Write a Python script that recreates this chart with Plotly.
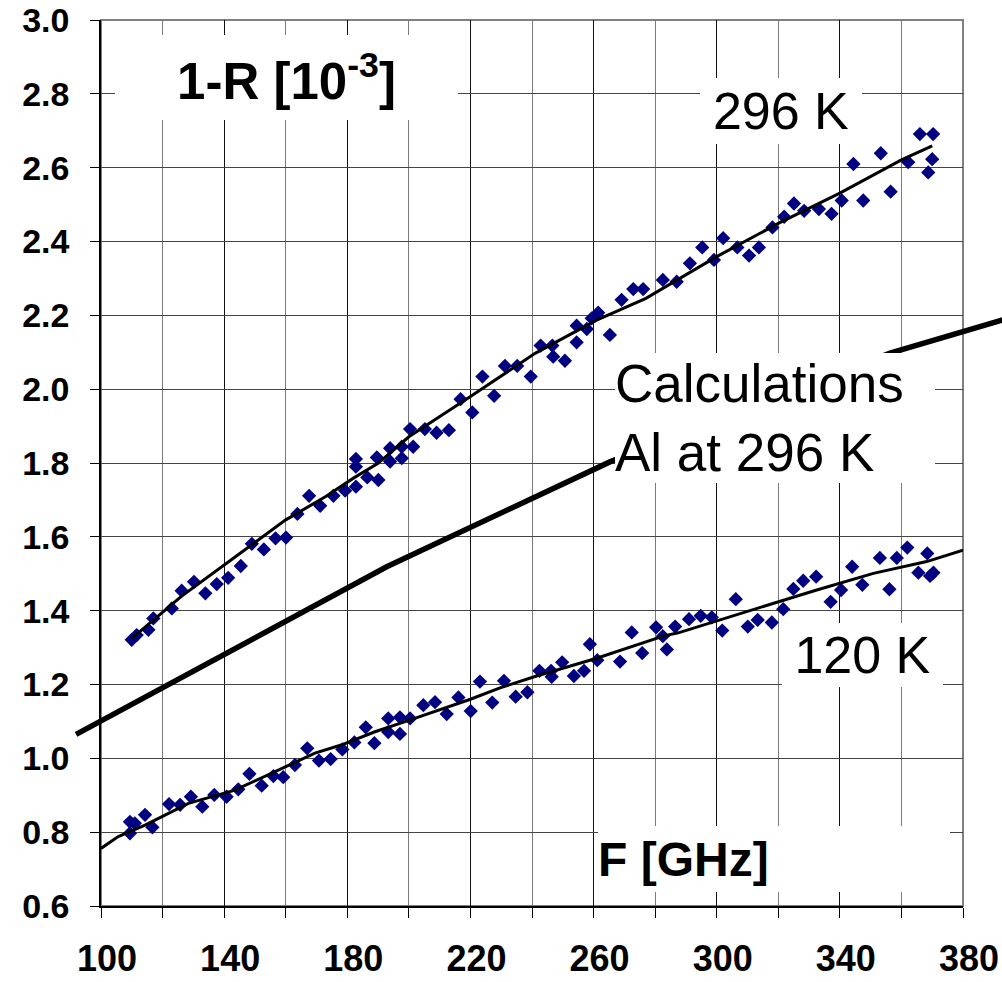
import plotly.graph_objects as go

# ---------------- data ----------------
F_296 = [109.97, 111.6, 115.4, 117.0, 123.0, 126.2, 130.2, 133.9, 137.6, 141.3,
         145.4, 149.0, 152.9, 156.7, 160.1, 163.8, 167.6, 171.2, 175.5, 179.3,
         182.8, 182.8, 182.8, 186.5, 189.6, 190.1, 193.9, 193.9, 197.7, 197.7,
         200.4, 201.4, 205.2, 209.0, 213.0, 216.8, 220.6, 223.9, 227.7, 231.2,
         235.2, 239.6, 242.8, 246.6, 246.9, 250.7, 254.5, 254.5, 257.8, 259.4,
         261.5, 265.3, 269.1, 272.9, 276.1, 282.5, 287.0, 291.3, 295.3, 299.1,
         302.1, 306.7, 310.5, 313.7, 318.1, 321.9, 325.1, 328.4, 333.2, 337.3,
         340.6, 344.4, 347.6, 353.3, 356.5, 362.2, 366.0, 370.3, 368.7, 370.0]
R_296 = [1.321, 1.334, 1.348, 1.379, 1.406, 1.454, 1.478, 1.447, 1.472, 1.489,
         1.521, 1.581, 1.566, 1.596, 1.598, 1.662, 1.711, 1.684, 1.711, 1.725,
         1.736, 1.811, 1.790, 1.761, 1.815, 1.754, 1.840, 1.804, 1.813, 1.844,
         1.892, 1.844, 1.892, 1.882, 1.889, 1.973, 1.937, 2.034, 1.982, 2.063,
         2.063, 2.034, 2.118, 2.118, 2.088, 2.077, 2.172, 2.127, 2.163, 2.192,
         2.207, 2.147, 2.242, 2.271, 2.271, 2.296, 2.291, 2.341, 2.384, 2.350,
         2.409, 2.384, 2.362, 2.384, 2.438, 2.467, 2.503, 2.483, 2.488, 2.475,
         2.511, 2.610, 2.511, 2.639, 2.535, 2.615, 2.691, 2.691, 2.587, 2.623]

F_296_fit = [110, 126, 143, 160, 173, 182, 190, 200, 220, 241, 261, 277,
             300, 320, 340, 360, 370]
R_296_fit = [1.325, 1.438, 1.542, 1.646, 1.709, 1.759, 1.799, 1.871, 1.980,
             2.097, 2.187, 2.246, 2.359, 2.449, 2.531, 2.621, 2.659]

F_120 = [109.4, 109.4, 111.0, 114.3, 116.7, 122.1, 125.7, 129.2, 132.9, 136.8,
         140.8, 144.6, 148.2, 152.2, 156.0, 159.2, 163.0, 167.0, 170.8, 174.6,
         178.4, 182.3, 186.0, 188.8, 193.3, 193.3, 197.1, 197.1, 200.4, 204.7,
         208.5, 212.3, 216.1, 220.1, 223.1, 227.1, 230.9, 234.7, 238.5, 242.4,
         246.2, 246.4, 249.8, 253.6, 256.9, 258.8, 261.2, 268.6, 272.4, 275.8,
         280.3, 282.5, 283.8, 286.5, 291.0, 294.8, 298.4, 301.8, 306.2, 310.1,
         313.3, 317.9, 321.6, 324.9, 328.1, 332.3, 337.0, 340.4, 344.0, 347.3,
         353.0, 356.1, 358.5, 361.9, 365.5, 368.4, 369.3, 370.4]
R_120 = [0.828, 0.797, 0.824, 0.847, 0.813, 0.876, 0.874, 0.896, 0.869, 0.901,
         0.896, 0.916, 0.958, 0.926, 0.952, 0.949, 0.982, 1.027, 0.994, 0.998,
         1.024, 1.043, 1.084, 1.041, 1.108, 1.071, 1.111, 1.066, 1.108, 1.144,
         1.152, 1.120, 1.165, 1.128, 1.208, 1.151, 1.210, 1.167, 1.179, 1.237,
         1.237, 1.221, 1.260, 1.223, 1.237, 1.309, 1.266, 1.262, 1.341, 1.285,
         1.355, 1.331, 1.295, 1.357, 1.377, 1.386, 1.382, 1.346, 1.431, 1.357,
         1.375, 1.368, 1.404, 1.459, 1.481, 1.492, 1.424, 1.456, 1.519, 1.470,
         1.543, 1.458, 1.543, 1.571, 1.503, 1.555, 1.494, 1.503]

F_120_fit = [100, 105.6, 114.3, 128.4, 143.5, 158.7, 169.5, 178, 189, 201.4,
             220, 229.6, 241.5, 261, 278.3, 282.6, 287.5, 305.4, 332.5, 350.9,
             368.2, 380]
R_120_fit = [0.756, 0.788, 0.819, 0.878, 0.914, 0.973, 1.014, 1.036, 1.072,
             1.107, 1.160, 1.191, 1.223, 1.271, 1.319, 1.331, 1.340, 1.387,
             1.456, 1.501, 1.533, 1.564]

# calculation for Al at 296 K (runs past the frame on both sides)
F_calc = [91.9, 140, 192.8, 265.3, 356.3, 395]
R_calc = [1.065, 1.283, 1.519, 1.803, 2.098, 2.193]

x_ticks = [100, 140, 180, 220, 260, 300, 340, 380]
x_labels = [str(v) for v in x_ticks]
y_ticks = [0.6, 0.8, 1.0, 1.2, 1.4, 1.6, 1.8, 2.0, 2.2, 2.4, 2.6, 2.8, 3.0]
y_labels = ["%.1f" % v for v in y_ticks]

# ---------------- geometry ----------------
W, H = 1002, 982
L, R, T, B = 101, 963, 20, 906          # plot frame in pixels
X0, X1 = 100, 380
Y0, Y1 = 0.6, 3.0
sx = (R - L) / (X1 - X0)
sy = (B - T) / (Y1 - Y0)

FONT = "Liberation Sans, Arial, sans-serif"
NAVY = "#000080"

fig = go.Figure()
for fx, fy in ((F_296, R_296), (F_120, R_120)):
    fig.add_trace(go.Scatter(x=fx, y=fy, mode="markers",
                             marker=dict(symbol="diamond", size=11, color=NAVY,
                                         line=dict(width=0)),
                             xaxis="x", yaxis="y", hoverinfo="skip"))
for fx, fy in ((F_296_fit, R_296_fit), (F_120_fit, R_120_fit)):
    fig.add_trace(go.Scatter(x=fx, y=fy, mode="lines",
                             line=dict(color="black", width=3),
                             xaxis="x", yaxis="y", hoverinfo="skip"))
fig.add_trace(go.Scatter(x=F_calc, y=R_calc, mode="lines",
                         line=dict(color="black", width=5.5),
                         xaxis="x2", yaxis="y2", hoverinfo="skip"))

fig.update_layout(
    width=W, height=H,
    margin=dict(l=0, r=0, t=0, b=0),
    paper_bgcolor="white", plot_bgcolor="rgba(0,0,0,0)",
    showlegend=False,
    font=dict(family=FONT, color="black"),
    xaxis=dict(domain=[L / W, R / W], range=[X0, X1], anchor="y",
               tickmode="array", tickvals=x_ticks, ticktext=x_labels,
               showgrid=True, gridcolor="#111111", gridwidth=1.3,
               ticks="outside", ticklen=10, tickcolor="black", tickwidth=1.3,
               minor=dict(dtick=20, tick0=100, showgrid=True,
                          gridcolor="#7a7a7a", gridwidth=1.3,
                          ticks="outside", ticklen=10, tickcolor="black",
                          tickwidth=1.3),
               showline=True, linecolor="black", linewidth=1.5,
               zeroline=False, automargin=False, ticklabelstandoff=10,
               ticklabelshift=6,
               tickfont=dict(size=36, family=FONT, weight="bold", color="black")),
    yaxis=dict(domain=[1 - B / H, 1 - T / H], range=[Y0, Y1], anchor="x",
               tickmode="array", tickvals=y_ticks, ticktext=y_labels,
               showgrid=True, gridcolor="#454545", gridwidth=1.3,
               ticks="outside", ticklen=9, tickcolor="black", tickwidth=1.3,
               showline=True, linecolor="black", linewidth=1.5,
               zeroline=False, automargin=False, ticklabelstandoff=14,
               tickfont=dict(size=34, family=FONT, weight="bold", color="black")),
    xaxis2=dict(domain=[0, 1], anchor="y2",
                range=[X0 - L / sx, X1 + (W - R) / sx], visible=False,
                fixedrange=True),
    yaxis2=dict(domain=[0, 1], anchor="x2",
                range=[Y0 - (H - B) / sy, Y1 + T / sy], visible=False,
                fixedrange=True),
    shapes=[dict(type="rect", xref="x domain", yref="y domain",
                 x0=0, x1=1, y0=0, y1=1, layer="below",
                 line=dict(color="#808080", width=2))],
)


def label(text, left, top, right, bottom, size, bold=False, align="center"):
    fig.add_annotation(
        text=text, xref="paper", yref="paper",
        x=left / W, y=1 - top / H, xanchor="left", yanchor="top",
        width=right - left, height=bottom - top,
        align=align, valign="middle", showarrow=False,
        bgcolor="white", borderpad=0, borderwidth=0,
        font=dict(family=FONT, size=size, color="black",
                  weight="bold" if bold else "normal"))


label("1-R [10<sup>-3</sup>]", 115, 35, 458, 120, 51, bold=True)
label("296 K", 700, 78, 862, 144, 52)
label("Calculations<br>Al at 296 K", 615, 353, 935, 483, 53, align="left")
label("120 K", 782, 623, 943, 687, 52)
label("F [GHz]", 598, 826, 950, 892, 48, bold=True, align="left")

fig.write_html("out.html",
               config={"displayModeBar": False},
               post_script="document.body.style.margin='0px';"
                           "document.body.style.overflow='hidden';")
